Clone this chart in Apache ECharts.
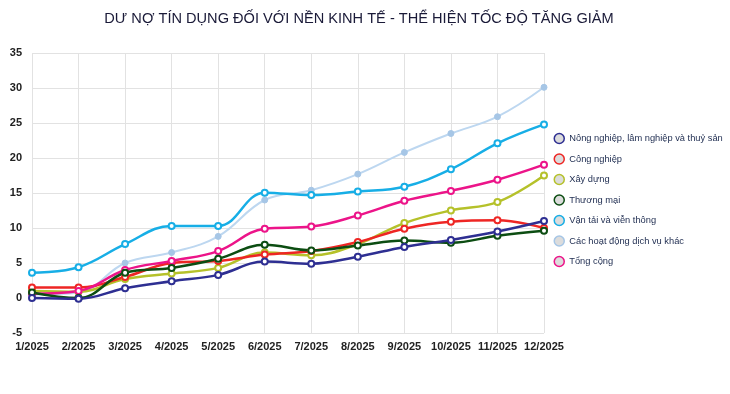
<!DOCTYPE html>
<html>
<head>
<meta charset="utf-8">
<script src="https://cdn.jsdelivr.net/npm/echarts@6/dist/echarts.min.js"></script>
<style>html,body{margin:0;padding:0;background:#fff}#c{width:730px;height:394px}</style>
</head>
<body>
<div id="c"></div>
<script>
const months = ['1/2025','2/2025','3/2025','4/2025','5/2025','6/2025','7/2025','8/2025','9/2025','10/2025','11/2025','12/2025'];
const nongNghiep = [0, -0.1, 1.4, 2.4, 3.3, 5.2, 4.9, 5.9, 7.3, 8.3, 9.5, 11.0];
const congNghiep = [1.5, 1.5, 3.0, 5.0, 5.3, 6.2, 6.7, 8.0, 9.9, 10.9, 11.1, 10.0];
const xayDung = [1.0, 0.9, 2.7, 3.5, 4.3, 6.5, 6.1, 7.7, 10.7, 12.5, 13.7, 17.5];
const thuongMai = [0.8, 0, 3.6, 4.3, 5.6, 7.6, 6.8, 7.5, 8.2, 7.9, 8.9, 9.6];
const vanTai = [3.6, 4.4, 7.7, 10.3, 10.3, 15.05, 14.7, 15.2, 15.9, 18.4, 22.1, 24.8];
const dichVuKhac = [0.5, 0.8, 5.0, 6.5, 8.8, 14.0, 15.4, 17.7, 20.8, 23.5, 25.9, 30.1];
const tongCong = [0.6, 1.0, 4.0, 5.3, 6.7, 9.9, 10.2, 11.8, 13.9, 15.3, 16.9, 19.05];
const names = ['Nông nghiệp, lâm nghiệp và thuỷ sản','Công nghiệp','Xây dựng','Thương mại','Vận tải và viễn thông','Các hoạt động dịch vụ khác','Tổng cộng'];

const chart = echarts.init(document.getElementById('c'));
function s(name, data, color, opts) {
  return Object.assign({
    name, type: 'line', data, smooth: 0.4,
    symbol: 'emptyCircle', symbolSize: 6,
    lineStyle: {color, width: 2.5},
    itemStyle: {color, borderColor: color, borderWidth: 1.5},
    emphasis: {disabled: true}
  }, opts || {});
}
chart.setOption({
  animation: false,
  title: {
    text: 'DƯ NỢ TÍN DỤNG ĐỐI VỚI NỀN KINH TẾ - THỂ HIỆN TỐC ĐỘ TĂNG GIẢM',
    left: 354, top: 6, textAlign: 'center',
    textStyle: {fontFamily: 'Liberation Sans', fontSize: 14.6, fontWeight: 'normal', color: '#1a1a38'}
  },
  legend: {
    data: names, orient: 'vertical', left: 553.5, top: 132.7, padding: 0,
    icon: 'circle', itemWidth: 10, itemHeight: 10, itemGap: 9.0,
    itemStyle: {color: '#dcdcdc', borderColor: 'inherit', borderWidth: 1.5},
    textStyle: {fontFamily: 'Liberation Sans', fontSize: 9.3, lineHeight: 10, color: '#1d2b4f'}
  },
  grid: {left: 32, right: 186, top: 53, bottom: 61, containLabel: false},
  xAxis: {
    type: 'category', data: months, boundaryGap: false,
    axisLine: {show: false}, axisTick: {show: false},
    axisLabel: {interval: 0, hideOverlap: false, fontFamily: 'Liberation Sans', fontSize: 11, fontWeight: 'bold', color: '#222', margin: 8},
    splitLine: {show: true, interval: 0, lineStyle: {color: '#e2e2e2'}}
  },
  yAxis: {
    type: 'value', min: -5, max: 35, interval: 5,
    axisLine: {show: false}, axisTick: {show: false},
    axisLabel: {fontFamily: 'Liberation Sans', fontSize: 11, fontWeight: 'bold', color: '#222', margin: 10},
    splitLine: {show: true, lineStyle: {color: '#e2e2e2'}}
  },
  series: [
    s(names[5], dichVuKhac, '#bdd7f0', {symbol: 'circle', lineStyle: {color: '#bdd7f0', width: 2}, itemStyle: {color: '#a6c6e6', borderColor: '#a6c6e6', borderWidth: 1}}),
    s(names[4], vanTai, '#17aee6'),
    s(names[2], xayDung, '#b5c12a'),
    s(names[1], congNghiep, '#ee2624'),
    s(names[6], tongCong, '#ec1489'),
    s(names[3], thuongMai, '#0c4d12'),
    s(names[0], nongNghiep, '#2e2f92')
  ]
});
</script>
</body>
</html>
